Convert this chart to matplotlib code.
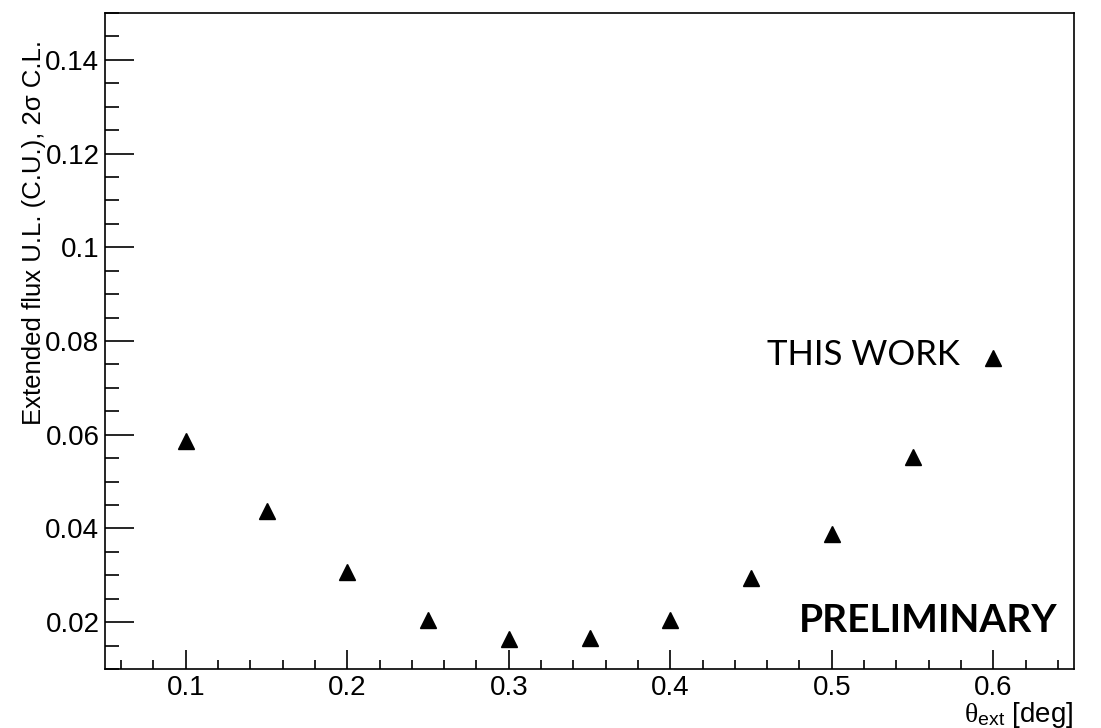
import matplotlib
matplotlib.use("Agg")
import matplotlib.pyplot as plt
from matplotlib.ticker import MultipleLocator

theta_ext = [0.10, 0.15, 0.20, 0.25, 0.30, 0.35, 0.40, 0.45, 0.50, 0.55, 0.60]
flux_ul = [0.0587, 0.0437, 0.0307, 0.0204, 0.0165, 0.0166, 0.0205, 0.0295, 0.0389, 0.0553, 0.0764]

x_label = r"$\mathrm{\theta}_{\mathsf{ext}}$ [deg]"
y_label = "Extended flux U.L. (C.U.), 2\u03c3 C.L."
label_work = "THIS WORK"
label_prelim = "PRELIMINARY"

plt.rcParams['font.family'] = ['Liberation Sans', 'DejaVu Sans']
plt.rcParams['mathtext.fontset'] = 'custom'
plt.rcParams['mathtext.rm'] = 'Liberation Serif'
plt.rcParams['mathtext.it'] = 'Liberation Serif:italic'
plt.rcParams['mathtext.sf'] = 'Liberation Sans'

W, H = 1101, 728
fig = plt.figure(figsize=(W / 100, H / 100), dpi=100)
ax = fig.add_axes([105 / W, 1 - 669 / H, (1074 - 105) / W, (669 - 13) / H])

ax.plot(theta_ext, flux_ul, linestyle='none', marker='^', markersize=11.5, color='black')

ax.set_xlim(0.05, 0.65)
ax.set_ylim(0.01, 0.15)
ax.xaxis.set_major_locator(MultipleLocator(0.1))
ax.xaxis.set_minor_locator(MultipleLocator(0.02))
ax.yaxis.set_major_locator(MultipleLocator(0.02))
ax.yaxis.set_minor_locator(MultipleLocator(0.005))

def fmt(v, pos):
    s = f"{v:.2f}".rstrip('0')
    return s
ax.xaxis.set_major_formatter(plt.FuncFormatter(lambda v, p: f"{v:.1f}"))
ax.yaxis.set_major_formatter(plt.FuncFormatter(fmt))

ax.tick_params(axis='x', which='major', direction='in', length=14, width=1.2, labelsize=20, pad=4)
ax.tick_params(axis='x', which='minor', direction='in', length=6.5, width=1.2)
ax.tick_params(axis='y', which='major', direction='in', length=21, width=1.2, labelsize=20, pad=4)
ax.tick_params(axis='y', which='minor', direction='in', length=10, width=1.2)
for sp in ax.spines.values():
    sp.set_linewidth(1.2)

ax.text(0.460, 0.0749, label_work, fontsize=25, family=['Lato', 'DejaVu Sans'], ha='left', va='baseline')
ax.text(0.6396, 0.0178, label_prelim, fontsize=28, family=['Lato', 'DejaVu Sans'], fontweight='bold',
        ha='right', va='baseline')

fig.text(34 / W, 1 - 40 / H, y_label, rotation=90, fontsize=18.5, ha='center', va='top')
fig.text(1074 / W, 1 - 722 / H, x_label, fontsize=20, ha='right', va='baseline')

fig.savefig("out.png", dpi=100)
